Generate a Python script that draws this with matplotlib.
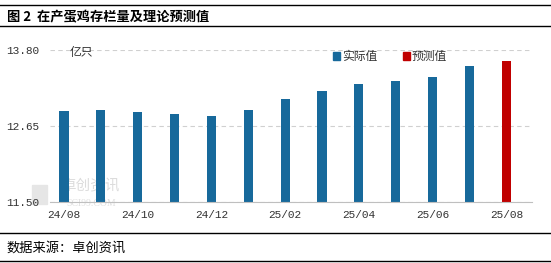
import numpy as np
import matplotlib
matplotlib.use("Agg")
import matplotlib.pyplot as plt
from matplotlib.lines import Line2D
from matplotlib.patches import Patch, Rectangle

plt.rcParams['font.family'] = ['Noto Sans CJK SC', 'DejaVu Sans']

months = ["24/08", "24/09", "24/10", "24/11", "24/12", "25/01", "25/02",
          "25/03", "25/04", "25/05", "25/06", "25/07", "25/08"]
actual = [12.88, 12.89, 12.86, 12.83, 12.80, 12.89, 13.06,
          13.18, 13.29, 13.33, 13.39, 13.56]
forecast = [13.63]
y_ticks = [11.50, 12.65, 13.80]

blue = "#17699B"
red = "#C00000"
mono = ['Liberation Mono', 'DejaVu Sans Mono']

fig = plt.figure(figsize=(5.51, 2.63), dpi=100)
ax = fig.add_axes([0.0907, 0.232, 0.875, 0.578])
ax.patch.set_alpha(0)

x = np.arange(len(months))
ax.bar(x[:len(actual)], np.array(actual) - 11.5, bottom=11.5, width=0.25, color=blue)
ax.bar(x[len(actual):], np.array(forecast) - 11.5, bottom=11.5, width=0.25, color=red)

ax.set_ylim(11.5, 13.8)
ax.set_xlim(-0.38, 12.7)
ax.set_yticks(y_ticks)
ax.set_yticklabels([f"{v:.2f}" for v in y_ticks], family=mono, fontsize=8, color="#333333")
ax.set_xticks(x[::2])
ax.set_xticklabels(months[::2], family=mono, fontsize=8, color="#333333")
ax.tick_params(length=0, pad=6)
ax.tick_params(axis='y', pad=8)
for s in ["top", "right", "left"]:
    ax.spines[s].set_visible(False)
ax.spines["bottom"].set_color("#BFBFBF")
ax.yaxis.grid(True, linestyle=(0, (4, 3)), color="#D0D0D0", linewidth=0.8)
ax.set_axisbelow(True)

ax.text(0.04, 0.985, "亿只", transform=ax.transAxes, fontsize=8.5, va="center", ha="left", color="#333333")

handles = [Patch(color=blue), Patch(color=red)]
ax.legend(handles, ["实际值", "预测值"], loc="upper left", bbox_to_anchor=(0.565, 1.07),
          ncol=2, frameon=False, fontsize=8.5, handlelength=0.6, handleheight=0.6,
          handletextpad=0.15, columnspacing=2.2, labelcolor="#333333")

# watermark, drawn beneath the axes
fig.add_artist(Rectangle((0.058, 0.225), 0.028, 0.07, transform=fig.transFigure,
                         color="#E6E6E6", zorder=-2))
fig.text(0.165, 0.29, "卓创资讯", fontsize=10.5, color="#DCDCDC", ha="center", va="center", zorder=-2)
fig.text(0.165, 0.225, "SCI99.COM", fontsize=7, color="#E0E0E0", ha="center", va="center",
         family='Liberation Serif', zorder=-2)

# title and source with frame lines
fig.text(0.012, 0.935, "图 2  在产蛋鸡存栏量及理论预测值", fontsize=9.5, weight="bold", va="center", ha="left")
fig.text(0.012, 0.057, "数据来源：卓创资讯", fontsize=9.5, va="center", ha="left")
for yy in [0.98, 0.9, 0.115, 0.006]:
    fig.add_artist(Line2D([0, 1], [yy, yy], transform=fig.transFigure, color="black", linewidth=1.0))

fig.savefig("out.png", dpi=100)
